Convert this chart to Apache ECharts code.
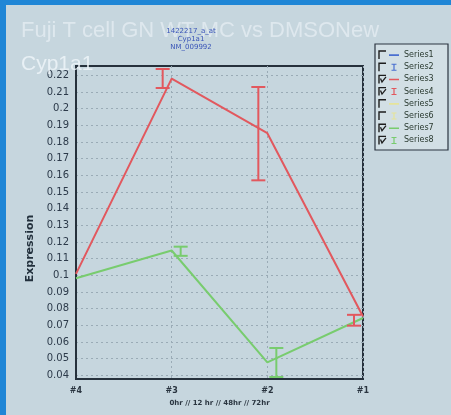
<!DOCTYPE html>
<html><head><meta charset="utf-8">
<script src="https://cdn.jsdelivr.net/npm/echarts@6/dist/echarts.min.js"></script>
<style>html,body{margin:0;padding:0;background:#c6d6de;} #c{width:451px;height:415px;}</style>
</head><body><div id="c"></div>
<script>
const categories = ['#4', '#3', '#2', '#1'];
const series3Values = [0.1009, 0.218, 0.1853, 0.0753];
const series4Low  = [null, 0.2124, 0.157, 0.0698];
const series4High = [null, 0.2238, 0.213, 0.0763];
const series7Values = [0.0983, 0.1149, 0.0478, 0.0744];
const series8Low  = [null, 0.1117, 0.039, null];
const series8High = [null, 0.1172, 0.0564, null];
const yTicks = [0.04, 0.05, 0.06, 0.07, 0.08, 0.09, 0.1, 0.11, 0.12, 0.13, 0.14, 0.15, 0.16, 0.17, 0.18, 0.19, 0.2, 0.21, 0.22];
const seriesNames = ['Series1', 'Series2', 'Series3', 'Series4', 'Series5', 'Series6', 'Series7', 'Series8'];
const checked = [false, false, true, true, false, false, true, true];
const titleText = 'Fuji T cell GN WT MC vs DMSONew';
const geneText = 'Cyp1a1';
const probeLines = ['1422217_a_at', 'Cyp1a1', 'NM_009992'];
const xName = '0hr // 12 hr // 48hr // 72hr';

const BLUE = '#4a6fd0', RED = '#e2585e', YEL = '#e6e49a', GRN = '#78cc6e';
const seriesColors = [BLUE, BLUE, RED, RED, YEL, YEL, GRN, GRN];

function errData(lo, hi) {
  const out = [];
  categories.forEach((c, i) => { if (lo[i] != null) out.push([i, lo[i], hi[i]]); });
  return out;
}
function errorBar(offset, color) {
  return function (params, api) {
    const i = api.value(0);
    const pLo = api.coord([i, api.value(1)]);
    const pHi = api.coord([i, api.value(2)]);
    const x = pLo[0] + offset, h = 7;
    const st = { stroke: color, lineWidth: 2 };
    return { type: 'group', children: [
      { type: 'line', shape: { x1: x, y1: pHi[1], x2: x, y2: pLo[1] }, style: st },
      { type: 'line', shape: { x1: x - h, y1: pHi[1], x2: x + h, y2: pHi[1] }, style: st },
      { type: 'line', shape: { x1: x - h, y1: pLo[1], x2: x + h, y2: pLo[1] }, style: st }
    ]};
  };
}

const lineIcon = 'path://M0,0h0.01v0.01h-0.01z M0,3.3h10v1.6h-10z M9.99,7.99h0.01v0.01h-0.01z';
const barIcon = 'path://M0,0h0.01v0.01h-0.01z M2.5,0.5h5v1h-5z M4.4,0.5h1.2v7h-1.2z M2.5,6.5h5v1h-5z M9.99,7.99h0.01v0.01h-0.01z';

const legendTop = 51, rowH = 12.2;
const graphics = [
  { type: 'rect', x: 0, y: 0, shape: { width: 451, height: 5 }, style: { fill: '#1f86d6' }, z: 10 },
  { type: 'rect', x: 0, y: 0, shape: { width: 6, height: 415 }, style: { fill: '#1f86d6' }, z: 10 },
  { type: 'text', x: 21, y: 20, style: { text: titleText, fill: 'rgba(238,244,248,0.6)', font: '22px "Liberation Sans", Arial, sans-serif' }, z: 1 },
  { type: 'text', x: 21, y: 54, style: { text: geneText, fill: 'rgba(240,246,250,0.8)', font: '21px "Liberation Sans", Arial, sans-serif' }, z: 1 },
  { type: 'text', x: 191, y: 27, style: { text: probeLines.join('\n'), fill: '#3a55b8', font: '7px "DejaVu Sans", sans-serif', align: 'center', lineHeight: 8 }, z: 5 },
  { type: 'rect', x: 375, y: 44, shape: { width: 73, height: 106 }, style: { fill: '#d2dfe5', stroke: '#2b3440', lineWidth: 1.2 }, z: 2 }
];
checked.forEach((c, k) => {
  const y = legendTop + k * rowH;
  graphics.push({ type: 'polyline', x: 379, y: y, shape: { points: [[0, 8], [0, 0], [7, 0]] }, style: { stroke: '#1e1e1e', lineWidth: 1.4, fill: 'none' }, z: 6 });
  if (c) graphics.push({ type: 'polyline', x: 379, y: y, shape: { points: [[1.5, 3], [3, 6.5], [7, 1.5]] }, style: { stroke: '#1e1e1e', lineWidth: 1.3, fill: 'none' }, z: 6 });
});

const series = [];
seriesNames.forEach((name, k) => {
  const color = seriesColors[k];
  if (k % 2 === 0) {
    let data = [];
    if (name === 'Series3') data = series3Values;
    if (name === 'Series7') data = series7Values;
    series.push({ name, type: 'line', data, color, symbol: 'none', lineStyle: { color, width: 2 }, z: 3 });
  } else {
    let data = [], off = 0;
    if (name === 'Series4') { data = errData(series4Low, series4High); off = -9; }
    if (name === 'Series8') { data = errData(series8Low, series8High); off = 9; }
    series.push({ name, type: 'custom', data, color, itemStyle: { color }, renderItem: errorBar(off, color), encode: { x: 0, y: [1, 2] }, z: 4 });
  }
});

const chart = echarts.init(document.getElementById('c'), null, { renderer: 'canvas' });
chart.setOption({
  backgroundColor: '#c6d6de',
  animation: false,
  grid: { left: 76, right: 88, top: 66, bottom: 36, show: true, borderColor: '#26313c', borderWidth: 2, backgroundColor: 'transparent' },
  legend: {
    orient: 'vertical', left: 389, top: legendTop, padding: 0, itemWidth: 10, itemHeight: 8, itemGap: rowH - 8,
    selectedMode: false,
    textStyle: { fontSize: 8, color: '#2a3a30', fontFamily: '"DejaVu Sans", sans-serif', lineHeight: 8 },
    data: seriesNames.map((n, k) => ({ name: n, icon: k % 2 === 0 ? lineIcon : barIcon, itemStyle: { color: seriesColors[k] } }))
  },
  xAxis: {
    type: 'category', data: categories, boundaryGap: false,
    name: xName, nameLocation: 'middle', nameGap: 12,
    nameTextStyle: { fontSize: 7, color: '#2a3540', fontFamily: '"DejaVu Sans", sans-serif', fontWeight: 'bold' },
    axisLine: { lineStyle: { color: '#26313c', width: 2 } },
    axisTick: { show: false },
    axisLabel: { fontSize: 8, fontWeight: 'bold', color: '#2a3540', margin: 8, fontFamily: '"DejaVu Sans", sans-serif' },
    splitLine: { show: true, lineStyle: { color: '#9aabb6', type: [2, 3], width: 1 } }
  },
  yAxis: {
    type: 'value', min: 0.0378, max: 0.2256,
    name: 'Expression', nameLocation: 'middle', nameGap: 40, nameRotate: 90,
    nameTextStyle: { fontSize: 11, fontWeight: 'bold', color: '#22303c', fontFamily: '"DejaVu Sans", sans-serif', padding: [0, 52, 0, 0] },
    axisLine: { show: true, lineStyle: { color: '#26313c', width: 2 } },
    axisTick: { show: false, customValues: yTicks },
    axisLabel: { customValues: yTicks, fontSize: 10, color: '#2c3a4a', margin: 7, fontFamily: '"DejaVu Sans", sans-serif', formatter: v => String(+v.toFixed(2)) },
    splitLine: { show: true, lineStyle: { color: '#9aabb6', type: [2, 3], width: 1 } }
  },
  graphic: graphics,
  series
});
</script></body></html>
